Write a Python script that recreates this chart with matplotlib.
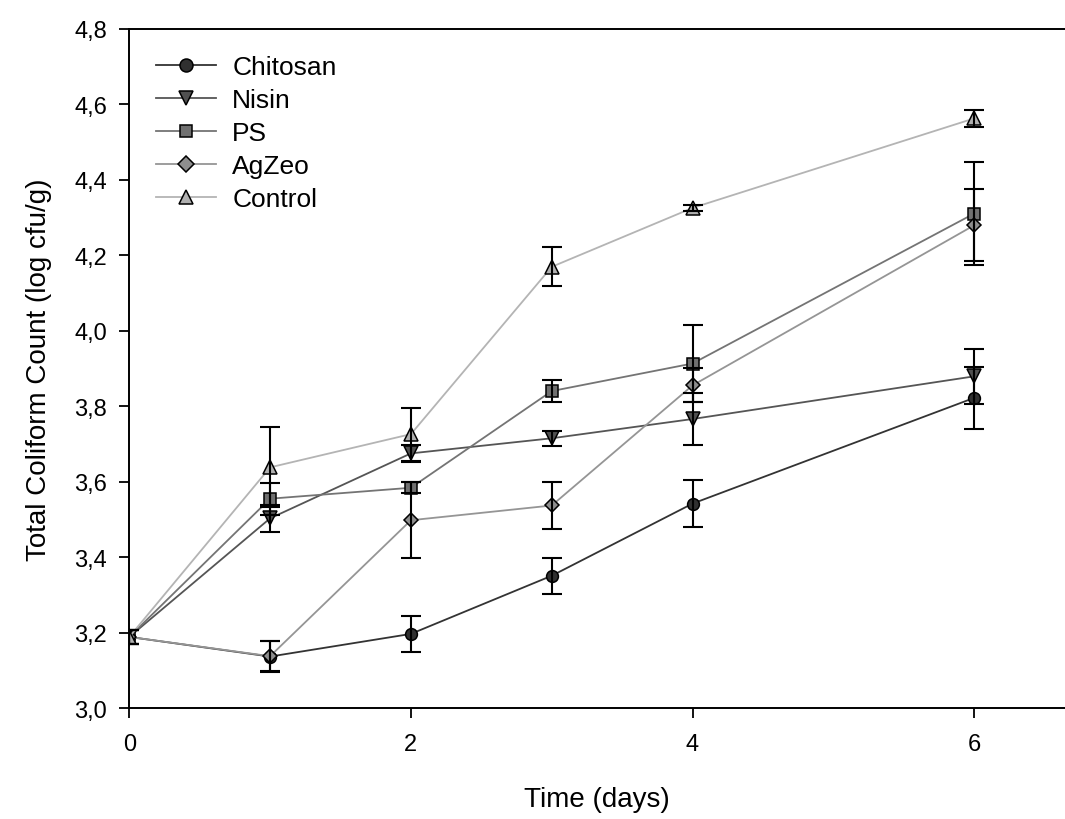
import matplotlib
matplotlib.use("Agg")
import matplotlib.pyplot as plt
from matplotlib.ticker import FuncFormatter

plt.rcParams['font.family'] = ['Liberation Sans', 'DejaVu Sans']

days = [0, 1, 2, 3, 4, 6]

chitosan = [3.189, 3.137, 3.197, 3.351, 3.542, 3.822]
chitosan_err = [0.018, 0.040, 0.048, 0.048, 0.062, 0.083]

nisin = [3.189, 3.503, 3.675, 3.715, 3.766, 3.879]
nisin_err = [0.018, 0.036, 0.022, 0.020, 0.070, 0.073]

ps = [3.189, 3.555, 3.584, 3.840, 3.913, 4.310]
ps_err = [0.018, 0.042, 0.015, 0.030, 0.103, 0.137]

agzeo = [3.189, 3.138, 3.498, 3.537, 3.855, 4.279]
agzeo_err = [0.018, 0.040, 0.100, 0.062, 0.045, 0.095]

control = [3.189, 3.638, 3.726, 4.169, 4.325, 4.562]
control_err = [0.018, 0.106, 0.070, 0.052, 0.008, 0.023]

# name, values, errors, marker, marker size, fill, line colour
series = [
    ("Chitosan", chitosan, chitosan_err, "o", 8.5, "#303030", "#333333"),
    ("Nisin", nisin, nisin_err, "v", 9.5, "#505050", "#555555"),
    ("PS", ps, ps_err, "s", 8.5, "#707070", "#747474"),
    ("AgZeo", agzeo, agzeo_err, "D", 7.5, "#8e8e8e", "#959595"),
    ("Control", control, control_err, "^", 9.5, "#b0b0b0", "#b4b4b4"),
]

fig = plt.figure(figsize=(10.65, 8.2), dpi=100)
ax = fig.add_axes([0.1214, 0.135, 0.8786, 0.829])

for name, vals, errs, mk, ms, fill, line in series:
    ax.plot(days, vals, color=line, lw=1.3, marker=mk, markersize=ms,
            markerfacecolor=fill, markeredgecolor="black", markeredgewidth=1.1,
            label=name, zorder=2)
    ax.errorbar(days, vals, yerr=errs, fmt="none", ecolor="black", elinewidth=1.5,
                capsize=7, capthick=1.5, zorder=3)

ax.set_xlim(0, 6.645)
ax.set_ylim(3.0, 4.8)
ax.set_xticks([0, 2, 4, 6])
ax.set_yticks([3.0, 3.2, 3.4, 3.6, 3.8, 4.0, 4.2, 4.4, 4.6, 4.8])
ax.yaxis.set_major_formatter(FuncFormatter(lambda v, p: f"{v:.1f}".replace(".", ",")))
ax.tick_params(direction="out", length=7, width=1.3, labelsize=17)
ax.tick_params(axis="y", pad=9)
ax.tick_params(axis="x", pad=11)
ax.spines["right"].set_visible(False)
for s in ("left", "bottom", "top"):
    ax.spines[s].set_linewidth(1.4)

ax.set_xlabel("Time (days)", fontsize=20, labelpad=22)
ax.set_ylabel("Total Coliform Count (log cfu/g)", fontsize=20, labelpad=16)

ax.legend(loc="upper left", bbox_to_anchor=(0.007, 0.99), frameon=False, fontsize=19,
          handlelength=2.3, handletextpad=0.6, labelspacing=0.34, borderaxespad=0.25,
          borderpad=0.5, markerscale=1.1)

fig.savefig("out.png", dpi=100)
